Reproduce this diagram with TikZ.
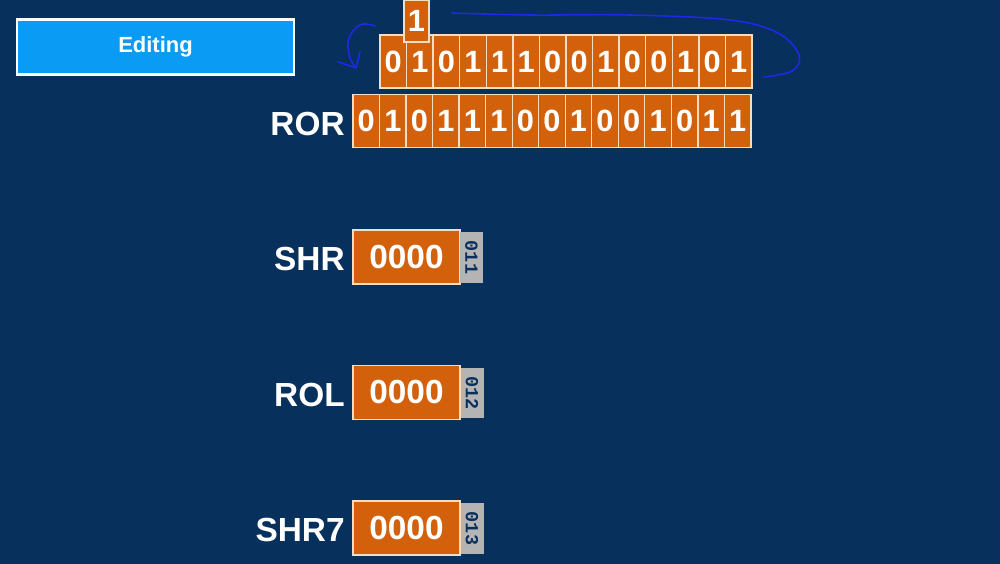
\documentclass[tikz,border=0pt]{standalone}
\usepackage{fontspec}
\setmainfont{Liberation Sans}
\newfontfamily\tagfont{Liberation Mono}
\usetikzlibrary{calc}
\definecolor{navy}{HTML}{07305C}
\definecolor{btnblue}{HTML}{0A9CF5}
\definecolor{cellorange}{HTML}{D3600B}
\definecolor{cellline}{HTML}{F4DDC0}
\definecolor{taggray}{HTML}{B4B4B4}
\definecolor{tagtext}{HTML}{0A2F5C}
\definecolor{penblue}{HTML}{1E28E6}
\tikzset{
  bitcell/.style={draw=cellline, line width=0.75pt, fill=cellorange, inner sep=0pt,
    minimum width=0.531cm, minimum height=1.06cm, text=white,
    font=\bfseries\fontsize{17.5}{20}\selectfont},
  regbox/.style={draw=cellline, line width=0.8pt, fill=cellorange, inner sep=0pt,
    minimum width=2.14cm, minimum height=1.08cm, text=white,
    font=\bfseries\fontsize{19}{22}\selectfont},
  tagbox/.style={fill=taggray, inner sep=0pt, minimum width=0.46cm, minimum height=1.02cm,
    text=tagtext, font=\tagfont\bfseries\fontsize{10.5}{12}\selectfont},
  reglabel/.style={anchor=east, text=white, inner sep=0pt,
    font=\bfseries\fontsize{19}{22}\selectfont},
  pen/.style={draw=penblue, line width=0.9pt, line cap=round, line join=round},
}
\begin{document}
\begin{tikzpicture}[x=0.02cm,y=-0.02cm]
\fill[navy] (0,0) rectangle (1000,564);
\useasboundingbox (0,0) rectangle (1000,564);
% Editing button
\node[draw=white, line width=1.2pt, fill=btnblue, minimum width=5.55cm, minimum height=1.1cm,
  inner sep=0pt, text=white, font=\bfseries\fontsize{12.5}{15}\selectfont] (edit) at (155.5,47) {Editing};
% top row (14 bits)
\foreach \b [count=\i] in {0,1,0,1,1,1,0,0,1,0,0,1,0,1}{
  \node[bitcell] (t\i) at ({380+26.57*(\i-0.5)},61.5) {\b};
}
% popped bit
\node[bitcell, minimum width=0.5cm, minimum height=0.84cm] (pop) at (416.5,21) {1};
% ROR row (15 bits)
\foreach \b [count=\i] in {0,1,0,1,1,1,0,0,1,0,0,1,0,1,1}{
  \node[bitcell] (r\i) at ({353+26.53*(\i-0.5)},121) {\b};
}
\node[reglabel] (lror) at (345,124) {ROR};
% SHR
\node[regbox] (shr) at (406.5,257) {0000};
\node[tagbox] (tshr) at (471.5,257.5) {\rotatebox{-90}{011}};
\node[reglabel] (lshr) at (345,259) {SHR};
% ROL
\node[regbox] (rol) at (406.5,392.5) {0000};
\node[tagbox] (trol) at (472,393) {\rotatebox{-90}{012}};
\node[reglabel] (lrol) at (345,395) {ROL};
% SHR7
\node[regbox] (shrs) at (406.5,528) {0000};
\node[tagbox] (tshrs) at (472,528.5) {\rotatebox{-90}{013}};
\node[reglabel] (lshrs) at (345,530) {SHR7};
% hand-drawn pen strokes
\draw[pen] plot[smooth, tension=0.6] coordinates {(452,13) (530,15) (630,15) (730,20) (778,33) (799,55) (792,71) (764,77)};
\draw[pen] plot[smooth, tension=0.6] coordinates {(375,26) (363,24) (353,31) (348,43) (350,58) (356,68)};
\draw[pen] (338,62) -- (356,68) -- (360,52);
\end{tikzpicture}
\end{document}
